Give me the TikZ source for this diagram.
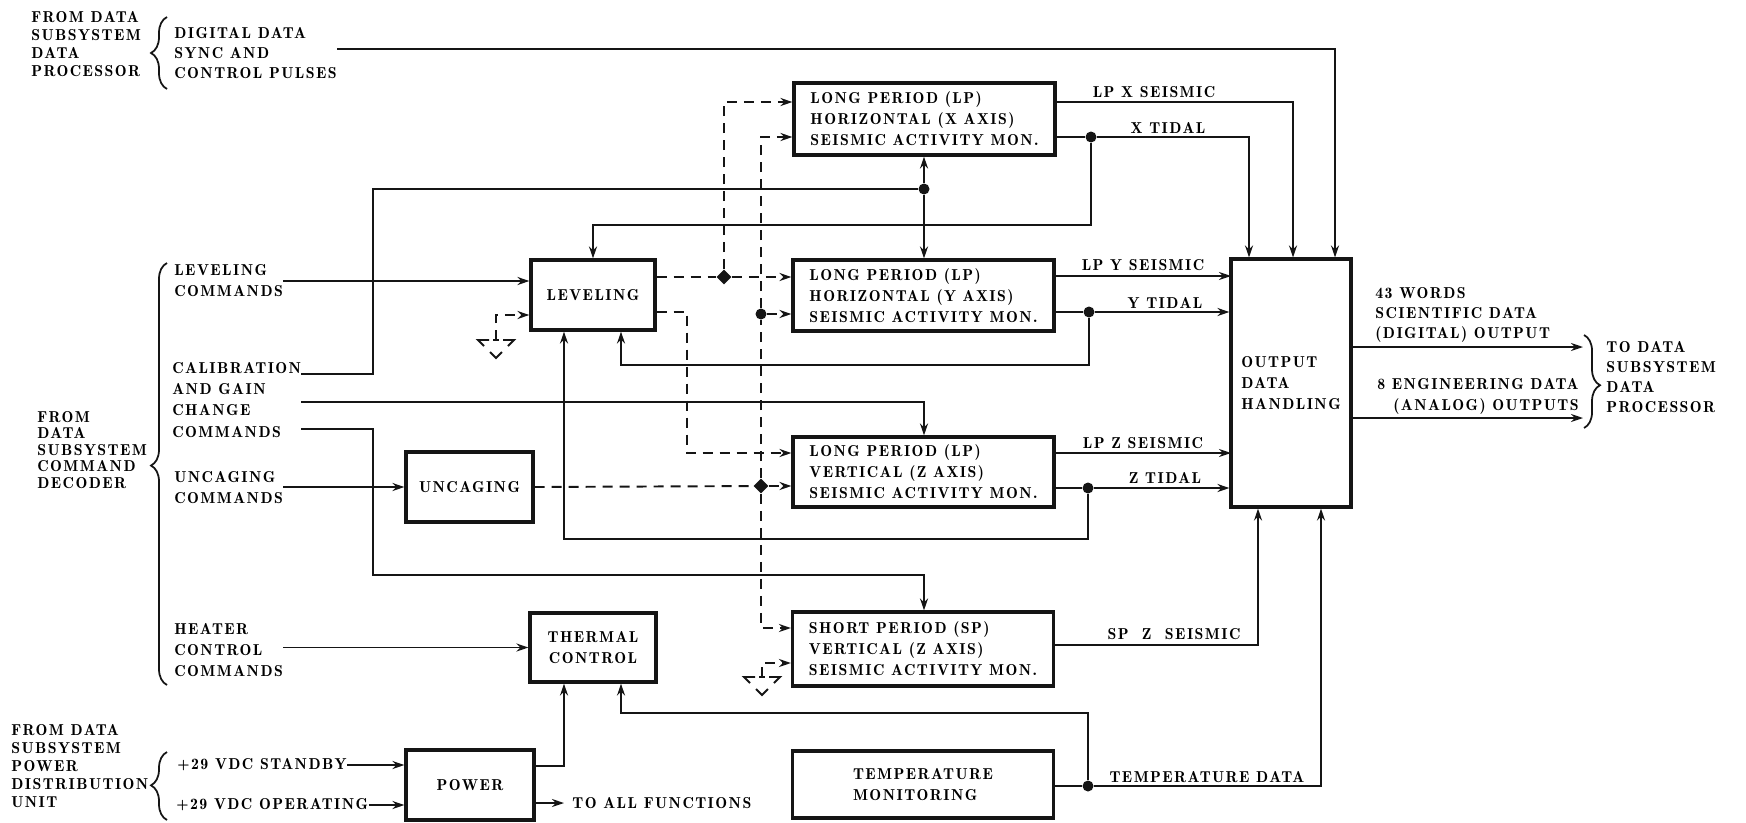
\documentclass[tikz,border=0pt]{standalone}
\usepackage{fontspec}
\setmainfont{lmromandemi10-regular.otf}[LetterSpace=9]
\usetikzlibrary{arrows.meta,calc,shapes.geometric,decorations.pathreplacing}
\definecolor{Ink}{HTML}{151515}
\tikzset{
  blk/.style={draw=Ink,line width=1.8pt,align=left,inner sep=2pt,font=\fontsize{9}{12}\selectfont},
  seis/.style={blk,minimum width=5.22cm,minimum height=1.42cm},
  unit/.style={blk,align=center,minimum width=2.5cm,minimum height=1.4cm},
  sig/.style={-{Stealth[length=2.4mm,width=1.6mm]},draw=Ink,line width=1.1pt},
  wire/.style={draw=Ink,line width=1.1pt},
  dsig/.style={sig,dash pattern=on 2mm off 1.4mm},
  dwire/.style={wire,dash pattern=on 2mm off 1.4mm},
  jdot/.style={circle,fill=Ink,inner sep=0pt,minimum size=2.2mm},
  jdia/.style={diamond,fill=Ink,inner sep=0pt,minimum size=3mm},
  txt/.style={align=left,inner sep=0pt,font=\fontsize{9}{12}\selectfont},
  src/.style={txt,font=\fontsize{9}{10.2}\selectfont},
  lbl/.style={inner sep=0pt,font=\fontsize{9}{12}\selectfont},
  brc/.style={draw=Ink,line width=1pt,decorate,decoration={brace,amplitude=3.2mm,aspect=#1}},
  brc/.default=0.5,
}
\begin{document}
\begin{tikzpicture}[x=0.02cm,y=-0.02cm]
\useasboundingbox (0,0) rectangle (1746,822);
\node[seis,minimum height=1.44cm] (lpx) at (924.5,119) {LONG PERIOD (LP)\\HORIZONTAL (X AXIS)\\SEISMIC ACTIVITY MON.};
\node[seis] (lpy) at (923.5,295.5) {LONG PERIOD (LP)\\HORIZONTAL (Y AXIS)\\SEISMIC ACTIVITY MON.};
\node[seis,minimum height=1.40cm] (lpz) at (923.5,472) {LONG PERIOD (LP)\\VERTICAL (Z AXIS)\\SEISMIC ACTIVITY MON.};
\node[seis,minimum height=1.48cm] (spz) at (923,649) {SHORT PERIOD (SP)\\VERTICAL (Z AXIS)\\SEISMIC ACTIVITY MON.};
\node[seis,minimum height=1.34cm] (temp) at (923,784.5) {TEMPERATURE\\MONITORING};
\node[unit,minimum width=2.48cm] (lev) at (593,295) {LEVELING};
\node[unit,minimum width=2.54cm] (uncage) at (469.5,487) {UNCAGING};
\node[unit,minimum width=2.52cm,minimum height=1.38cm] (therm) at (593,647.5) {THERMAL\\CONTROL};
\node[unit,minimum width=2.56cm] (power) at (470,785) {POWER};
\node[blk,minimum width=2.4cm,minimum height=4.96cm] (odh) at (1291,383) {OUTPUT\\DATA\\HANDLING};

\node[src,anchor=west] (srcdp) at (31,44) {FROM DATA\\SUBSYSTEM\\DATA\\PROCESSOR};
\node[txt,anchor=west,font=\fontsize{9}{11.6}\selectfont] (digsync) at (174,53) {DIGITAL DATA\\SYNC AND\\CONTROL PULSES};
\node[txt,anchor=west] (levcmd) at (174,281) {LEVELING\\COMMANDS};
\node[txt,anchor=west] (calib) at (172,400) {CALIBRATION\\AND GAIN\\CHANGE\\COMMANDS};
\node[src,anchor=west,font=\fontsize{9}{9.4}\selectfont] (cmddec) at (37,450) {FROM\\DATA\\SUBSYSTEM\\COMMAND\\DECODER};
\node[txt,anchor=west] (uncmd) at (174,487.5) {UNCAGING\\COMMANDS};
\node[txt,anchor=west] (hcmd) at (174,650) {HEATER\\CONTROL\\COMMANDS};
\node[src,anchor=west] (pwrsrc) at (11,766) {FROM DATA\\SUBSYSTEM\\POWER\\DISTRIBUTION\\UNIT};
\node[lbl,anchor=west] (sby) at (177,765) {+29 VDC STANDBY};
\node[lbl,anchor=west] (opr) at (176,805) {+29 VDC OPERATING};
\node[lbl,anchor=west] (allf) at (572,803) {TO ALL FUNCTIONS};
\node[txt,anchor=west,font=\fontsize{9}{11.4}\selectfont] (sci) at (1375,315) {43 WORDS\\SCIENTIFIC DATA\\(DIGITAL) OUTPUT};
\node[txt,anchor=east,align=right] (eng) at (1579,396) {8 ENGINEERING DATA\\(ANALOG) OUTPUTS};
\node[txt,anchor=west,font=\fontsize{9}{11.4}\selectfont] (todp) at (1606,377) {TO DATA\\SUBSYSTEM\\DATA\\PROCESSOR};

\node[lbl] (lXs) at (1154,92) {LP X SEISMIC};
\node[lbl] (lXt) at (1168,128) {X TIDAL};
\node[lbl] (lYs) at (1143,265) {LP Y SEISMIC};
\node[lbl] (lYt) at (1165,303) {Y TIDAL};
\node[lbl] (lZs) at (1143,443) {LP Z SEISMIC};
\node[lbl] (lZt) at (1165,478) {Z TIDAL};
\node[lbl] (lSp) at (1174,634) {SP~~Z~~SEISMIC};
\node[lbl] (lTd) at (1207,777) {TEMPERATURE DATA};

\node[jdot] (jXt) at (1091,137) {};
\node[jdot] (jCal) at (924,189) {};
\node[jdia] (jLev) at (724,277) {};
\node[jdot] (jUny) at (761,314) {};
\node[jdot] (jYt) at (1089,312) {};
\node[jdia] (jUn) at (761,486) {};
\node[jdot] (jZt) at (1088,488) {};
\node[jdot] (jTd) at (1088,786) {};

\coordinate (cSync) at (1335,49);
\coordinate (cXs) at (1293,102);
\coordinate (cXt) at (1249,137);
\coordinate (cXfb) at (593,225);
\coordinate (cCal) at (373,374);
\coordinate (cChg) at (924,402);
\coordinate (cCmd) at (373,429);
\coordinate (cSpr) at (373,575);
\coordinate (cYs) at (1231,276);
\coordinate (cYfb) at (621,365);
\coordinate (cZs) at (1231,453);
\coordinate (cZfb) at (564,539);
\coordinate (cLz) at (687,312);
\coordinate (cSpu) at (761,628);
\coordinate (cSp) at (1258,645);
\coordinate (cTd) at (1321,786);
\coordinate (cTfb) at (621,713);
\coordinate (cPw) at (564,766);
\coordinate (cSci) at (1583,347);
\coordinate (cEng) at (1583,418);
\coordinate (gLev) at (496,340);
\coordinate (gSp) at (762,677);

\draw[sig] (digsync.east |- cSync) -- (cSync) -- (cSync |- odh.north);
\draw[sig] (lpx.east |- cXs) -- (cXs) -- (cXs |- odh.north);
\draw[wire] (lpx.east |- jXt) -- (jXt);
\draw[sig] (jXt) -- (cXt) -- (cXt |- odh.north);
\draw[sig] (jXt) |- (cXfb) -- (cXfb |- lev.north);

\draw[wire] (calib.east |- cCal) -- (cCal) |- (jCal);
\draw[sig] (jCal) -- (lpx.south -| jCal);
\draw[sig] (jCal) -- (lpy.north -| jCal);
\draw[sig] (calib.east |- cChg) -- (cChg) -- (lpz.north -| cChg);
\draw[sig] (calib.east |- cCmd) -- (cCmd) -- (cSpr) -| (spz.north -| jCal);

\draw[sig] (levcmd.east) -- (lev.west |- levcmd.east);
\draw[dwire] (lev.east |- jLev) -- (jLev);
\draw[dsig] (jLev) -- (lpy.west |- jLev);
\draw[dsig] (jLev) |- (lpx.west |- cXs);
\draw[dsig] (lev.east |- cLz) -- (cLz) |- (lpz.west |- cZs);
\draw[dsig] (gLev) |- ([yshift=-0.4cm]lev.west);
\draw[wire] ($(gLev)+(-7,0)$) -- ++(-11,0) -- ++(6,6);
\draw[wire] ($(gLev)+(7,0)$) -- ++(11,0) -- ++(-6,6);
\draw[wire] ($(gLev)+(-3,0)$) -- ++(6,0);
\draw[wire] ($(gLev)+(-6,12)$) -- ++(6,6) -- ++(6,-6);

\draw[sig] (uncmd.east |- uncage.west) -- (uncage.west);
\draw[dwire] (uncage.east) -- (jUn);
\draw[dsig] (jUn) -- (lpz.west |- jUn);
\draw[dwire] (jUn) -- (jUny);
\draw[dsig] (jUny) -- (lpy.west |- jUny);
\draw[dsig] (jUny) |- (lpx.west |- jXt);
\draw[dsig] (jUn) |- (spz.west |- cSpu);
\draw[dsig] (gSp) |- ([yshift=-0.28cm]spz.west);
\draw[wire] ($(gSp)+(-7,0)$) -- ++(-11,0) -- ++(6,6);
\draw[wire] ($(gSp)+(7,0)$) -- ++(11,0) -- ++(-6,6);
\draw[wire] ($(gSp)+(-3,0)$) -- ++(6,0);
\draw[wire] ($(gSp)+(-6,12)$) -- ++(6,6) -- ++(6,-6);

\draw[sig] (lpy.east |- cYs) -- (cYs);
\draw[wire] (lpy.east |- jYt) -- (jYt);
\draw[sig] (jYt) -- (odh.west |- jYt);
\draw[sig] (jYt) |- (cYfb) -- (cYfb |- lev.south);
\draw[sig] (lpz.east |- cZs) -- (cZs);
\draw[wire] (lpz.east |- jZt) -- (jZt);
\draw[sig] (jZt) -- (odh.west |- jZt);
\draw[sig] (jZt) |- (cZfb) -- (cZfb |- lev.south);

\draw[sig] (spz.east |- cSp) -- (cSp) -- (cSp |- odh.south);
\draw[wire] (temp.east |- jTd) -- (jTd);
\draw[sig] (jTd) -- (cTd) -- (cTd |- odh.south);
\draw[sig] (jTd) |- (cTfb) -- (cTfb |- therm.south);

\draw[sig] (hcmd.east |- therm.west) -- (therm.west);
\draw[sig] (sby.east) -- (power.west |- sby.east);
\draw[sig] (opr.east) -- (power.west |- opr.east);
\draw[sig] (power.east |- cPw) -- (cPw) -- (cPw |- therm.south);
\draw[sig] (power.east |- allf.west) -- ([xshift=-0.16cm]allf.west);

\draw[sig] (odh.east |- cSci) -- (cSci);
\draw[sig] (odh.east |- cEng) -- (cEng);

\draw[brc] (167,89) -- (167,17);
\draw[brc=0.52] (167,685) -- (167,263);
\draw[brc=0.51] (167,820) -- (167,752);
\draw[brc=0.54] (1584,335) -- (1584,428);
\end{tikzpicture}
\end{document}
